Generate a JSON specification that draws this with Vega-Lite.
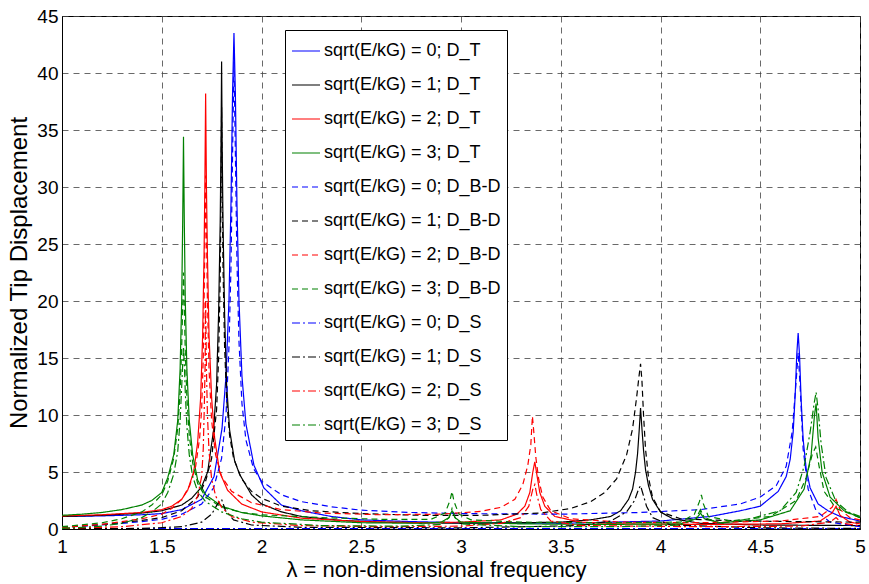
{
  "$schema": "https://vega.github.io/schema/vega-lite/v6.json",
  "width": 798,
  "height": 513,
  "autosize": "none",
  "padding": {"left": 62, "top": 16, "right": 9, "bottom": 55},
  "background": "white",
  "config": {
    "font": "Liberation Sans",
    "view": {"stroke": "#000000", "strokeWidth": 1},
    "axis": {
      "labelFont": "Liberation Sans", "titleFont": "Liberation Sans",
      "labelColor": "#000", "titleColor": "#000", "labelFontSize": 19,
      "titleFontWeight": "normal", "domainColor": "#000", "ticks": false,
      "grid": true, "gridColor": "#444", "gridDash": [6, 5], "gridOpacity": 0.8, "gridWidth": 1
    },
    "legend": {"labelFont": "Liberation Sans"}
  },
  "datasets": {
    "names": [
      {"s": "T0", "name": "sqrt(E/kG) = 0; D_T"},
      {"s": "T1", "name": "sqrt(E/kG) = 1; D_T"},
      {"s": "T2", "name": "sqrt(E/kG) = 2; D_T"},
      {"s": "T3", "name": "sqrt(E/kG) = 3; D_T"},
      {"s": "B0", "name": "sqrt(E/kG) = 0; D_B-D"},
      {"s": "B1", "name": "sqrt(E/kG) = 1; D_B-D"},
      {"s": "B2", "name": "sqrt(E/kG) = 2; D_B-D"},
      {"s": "B3", "name": "sqrt(E/kG) = 3; D_B-D"},
      {"s": "S0", "name": "sqrt(E/kG) = 0; D_S"},
      {"s": "S1", "name": "sqrt(E/kG) = 1; D_S"},
      {"s": "S2", "name": "sqrt(E/kG) = 2; D_S"},
      {"s": "S3", "name": "sqrt(E/kG) = 3; D_S"}
    ],
    "pts": [
      {"s":"T0","x":1,"y":1.1},{"s":"T0","x":1.2,"y":1.15},{"s":"T0","x":1.4,"y":1.25},{"s":"T0","x":1.5,"y":1.35},{"s":"T0","x":1.6,"y":1.7},{"s":"T0","x":1.7,"y":2.6},{"s":"T0","x":1.762,"y":4.6},{"s":"T0","x":1.802,"y":8.8},{"s":"T0","x":1.822,"y":13.4},{"s":"T0","x":1.837,"y":20.1},{"s":"T0","x":1.847,"y":28.5},{"s":"T0","x":1.855,"y":38.3},{"s":"T0","x":1.862,"y":43.5},{"s":"T0","x":1.869,"y":38.3},{"s":"T0","x":1.877,"y":28.5},{"s":"T0","x":1.887,"y":20.1},{"s":"T0","x":1.902,"y":13.4},{"s":"T0","x":1.922,"y":9.2},{"s":"T0","x":1.962,"y":5.6},{"s":"T0","x":2.012,"y":3.6},{"s":"T0","x":2.1,"y":2.1},{"s":"T0","x":2.2,"y":1.6},{"s":"T0","x":2.35,"y":1.1},{"s":"T0","x":2.5,"y":0.8},{"s":"T0","x":2.75,"y":0.65},{"s":"T0","x":3,"y":0.55},{"s":"T0","x":3.5,"y":0.5},{"s":"T0","x":4,"y":0.7},{"s":"T0","x":4.25,"y":1.1},{"s":"T0","x":4.4,"y":1.6},{"s":"T0","x":4.5,"y":2.0},{"s":"T0","x":4.59,"y":3.3},{"s":"T0","x":4.63,"y":4.6},{"s":"T0","x":4.65,"y":6.1},{"s":"T0","x":4.665,"y":8.5},{"s":"T0","x":4.675,"y":11.7},{"s":"T0","x":4.683,"y":15.3},{"s":"T0","x":4.69,"y":17.2},{"s":"T0","x":4.697,"y":15.2},{"s":"T0","x":4.705,"y":11.3},{"s":"T0","x":4.715,"y":7.9},{"s":"T0","x":4.73,"y":5.3},{"s":"T0","x":4.75,"y":3.6},{"s":"T0","x":4.79,"y":2.2},{"s":"T0","x":4.84,"y":1.6},{"s":"T0","x":4.9,"y":1.1},{"s":"T0","x":5,"y":0.7},

      {"s":"T1","x":1,"y":1.1},{"s":"T1","x":1.2,"y":1.2},{"s":"T1","x":1.4,"y":1.4},{"s":"T1","x":1.5,"y":1.6},{"s":"T1","x":1.6,"y":2.1},{"s":"T1","x":1.65,"y":2.7},{"s":"T1","x":1.7,"y":3.7},{"s":"T1","x":1.73,"y":5.0},{"s":"T1","x":1.76,"y":8.7},{"s":"T1","x":1.775,"y":12.7},{"s":"T1","x":1.785,"y":18.9},{"s":"T1","x":1.793,"y":26.9},{"s":"T1","x":1.797,"y":33.5},{"s":"T1","x":1.8,"y":41},{"s":"T1","x":1.803,"y":33.5},{"s":"T1","x":1.807,"y":26.9},{"s":"T1","x":1.815,"y":18.9},{"s":"T1","x":1.825,"y":12.7},{"s":"T1","x":1.84,"y":8.7},{"s":"T1","x":1.865,"y":6.0},{"s":"T1","x":1.89,"y":4.8},{"s":"T1","x":1.95,"y":3.0},{"s":"T1","x":2,"y":2.2},{"s":"T1","x":2.1,"y":1.5},{"s":"T1","x":2.2,"y":1.1},{"s":"T1","x":2.4,"y":0.75},{"s":"T1","x":2.6,"y":0.6},{"s":"T1","x":3,"y":0.5},{"s":"T1","x":3.3,"y":0.55},{"s":"T1","x":3.5,"y":0.6},{"s":"T1","x":3.65,"y":0.8},{"s":"T1","x":3.75,"y":1.1},{"s":"T1","x":3.8,"y":1.6},{"s":"T1","x":3.84,"y":2.6},{"s":"T1","x":3.86,"y":3.5},{"s":"T1","x":3.875,"y":5.0},{"s":"T1","x":3.885,"y":6.6},{"s":"T1","x":3.893,"y":8.6},{"s":"T1","x":3.9,"y":10.6},{"s":"T1","x":3.907,"y":8.8},{"s":"T1","x":3.915,"y":6.9},{"s":"T1","x":3.925,"y":5.2},{"s":"T1","x":3.94,"y":3.8},{"s":"T1","x":3.96,"y":2.6},{"s":"T1","x":4,"y":1.5},{"s":"T1","x":4.06,"y":0.9},{"s":"T1","x":4.2,"y":0.5},{"s":"T1","x":4.5,"y":0.35},{"s":"T1","x":5,"y":0.3},

      {"s":"T2","x":1,"y":1.15},{"s":"T2","x":1.2,"y":1.25},{"s":"T2","x":1.4,"y":1.45},{"s":"T2","x":1.5,"y":1.7},{"s":"T2","x":1.55,"y":2.0},{"s":"T2","x":1.6,"y":2.6},{"s":"T2","x":1.63,"y":3.4},{"s":"T2","x":1.66,"y":5.0},{"s":"T2","x":1.68,"y":7.6},{"s":"T2","x":1.695,"y":11.5},{"s":"T2","x":1.705,"y":17},{"s":"T2","x":1.712,"y":24},{"s":"T2","x":1.716,"y":30},{"s":"T2","x":1.72,"y":38.2},{"s":"T2","x":1.724,"y":30},{"s":"T2","x":1.729,"y":24},{"s":"T2","x":1.737,"y":17},{"s":"T2","x":1.75,"y":11.5},{"s":"T2","x":1.765,"y":8},{"s":"T2","x":1.79,"y":5.0},{"s":"T2","x":1.83,"y":3.4},{"s":"T2","x":1.9,"y":2.2},{"s":"T2","x":2,"y":1.5},{"s":"T2","x":2.2,"y":0.95},{"s":"T2","x":2.5,"y":0.65},{"s":"T2","x":2.8,"y":0.55},{"s":"T2","x":3,"y":0.6},{"s":"T2","x":3.2,"y":0.8},{"s":"T2","x":3.28,"y":1.3},{"s":"T2","x":3.32,"y":2.0},{"s":"T2","x":3.345,"y":3.2},{"s":"T2","x":3.36,"y":5.0},{"s":"T2","x":3.37,"y":5.9},{"s":"T2","x":3.38,"y":4.8},{"s":"T2","x":3.395,"y":3.2},{"s":"T2","x":3.42,"y":2.0},{"s":"T2","x":3.47,"y":1.1},{"s":"T2","x":3.6,"y":0.6},{"s":"T2","x":3.8,"y":0.45},{"s":"T2","x":4.2,"y":0.4},{"s":"T2","x":4.6,"y":0.45},{"s":"T2","x":4.8,"y":0.7},{"s":"T2","x":4.86,"y":1.4},{"s":"T2","x":4.88,"y":2.0},{"s":"T2","x":4.9,"y":1.2},{"s":"T2","x":4.95,"y":0.6},{"s":"T2","x":5,"y":0.45},

      {"s":"T3","x":1,"y":1.2},{"s":"T3","x":1.1,"y":1.3},{"s":"T3","x":1.2,"y":1.45},{"s":"T3","x":1.3,"y":1.7},{"s":"T3","x":1.4,"y":2.1},{"s":"T3","x":1.45,"y":2.5},{"s":"T3","x":1.5,"y":3.2},{"s":"T3","x":1.53,"y":4.5},{"s":"T3","x":1.56,"y":6.5},{"s":"T3","x":1.58,"y":9.5},{"s":"T3","x":1.592,"y":14},{"s":"T3","x":1.6,"y":20},{"s":"T3","x":1.605,"y":27},{"s":"T3","x":1.609,"y":34.4},{"s":"T3","x":1.613,"y":27},{"s":"T3","x":1.618,"y":20},{"s":"T3","x":1.626,"y":14},{"s":"T3","x":1.638,"y":9.5},{"s":"T3","x":1.655,"y":6.5},{"s":"T3","x":1.68,"y":4.3},{"s":"T3","x":1.72,"y":3.0},{"s":"T3","x":1.8,"y":2.0},{"s":"T3","x":1.9,"y":1.45},{"s":"T3","x":2,"y":1.15},{"s":"T3","x":2.2,"y":0.8},{"s":"T3","x":2.5,"y":0.55},{"s":"T3","x":2.8,"y":0.5},{"s":"T3","x":2.9,"y":0.6},{"s":"T3","x":2.94,"y":1.0},{"s":"T3","x":2.955,"y":1.6},{"s":"T3","x":2.97,"y":1.0},{"s":"T3","x":3,"y":0.6},{"s":"T3","x":3.3,"y":0.45},{"s":"T3","x":3.7,"y":0.4},{"s":"T3","x":4.1,"y":0.45},{"s":"T3","x":4.18,"y":0.9},{"s":"T3","x":4.2,"y":1.4},{"s":"T3","x":4.22,"y":0.9},{"s":"T3","x":4.3,"y":0.55},{"s":"T3","x":4.5,"y":0.8},{"s":"T3","x":4.65,"y":1.6},{"s":"T3","x":4.72,"y":3.5},{"s":"T3","x":4.755,"y":6.5},{"s":"T3","x":4.772,"y":10},{"s":"T3","x":4.78,"y":11},{"s":"T3","x":4.79,"y":8},{"s":"T3","x":4.81,"y":5},{"s":"T3","x":4.85,"y":2.8},{"s":"T3","x":4.92,"y":1.6},{"s":"T3","x":5,"y":1.0},

      {"s":"B0","x":1,"y":0.15},{"s":"B0","x":1.2,"y":0.35},{"s":"B0","x":1.4,"y":0.65},{"s":"B0","x":1.5,"y":0.85},{"s":"B0","x":1.6,"y":1.3},{"s":"B0","x":1.7,"y":2.2},{"s":"B0","x":1.76,"y":3.6},{"s":"B0","x":1.8,"y":6.2},{"s":"B0","x":1.822,"y":10},{"s":"B0","x":1.837,"y":16},{"s":"B0","x":1.847,"y":23},{"s":"B0","x":1.855,"y":33},{"s":"B0","x":1.862,"y":41},{"s":"B0","x":1.869,"y":33},{"s":"B0","x":1.877,"y":23.5},{"s":"B0","x":1.887,"y":16.5},{"s":"B0","x":1.902,"y":11},{"s":"B0","x":1.922,"y":7.8},{"s":"B0","x":1.96,"y":5.3},{"s":"B0","x":2,"y":4.2},{"s":"B0","x":2.1,"y":3.0},{"s":"B0","x":2.2,"y":2.4},{"s":"B0","x":2.35,"y":1.95},{"s":"B0","x":2.5,"y":1.65},{"s":"B0","x":2.75,"y":1.45},{"s":"B0","x":3,"y":1.35},{"s":"B0","x":3.5,"y":1.3},{"s":"B0","x":3.9,"y":1.45},{"s":"B0","x":4.2,"y":1.7},{"s":"B0","x":4.4,"y":2.2},{"s":"B0","x":4.5,"y":2.8},{"s":"B0","x":4.58,"y":3.8},{"s":"B0","x":4.63,"y":5.5},{"s":"B0","x":4.66,"y":8.5},{"s":"B0","x":4.68,"y":13},{"s":"B0","x":4.69,"y":15.5},{"s":"B0","x":4.7,"y":12.5},{"s":"B0","x":4.715,"y":7},{"s":"B0","x":4.74,"y":3.5},{"s":"B0","x":4.78,"y":1.6},{"s":"B0","x":4.85,"y":0.6},{"s":"B0","x":5,"y":0.2},

      {"s":"B1","x":1,"y":0.15},{"s":"B1","x":1.2,"y":0.4},{"s":"B1","x":1.4,"y":0.75},{"s":"B1","x":1.5,"y":1.0},{"s":"B1","x":1.6,"y":1.6},{"s":"B1","x":1.68,"y":2.8},{"s":"B1","x":1.72,"y":4.2},{"s":"B1","x":1.75,"y":6.2},{"s":"B1","x":1.775,"y":10.5},{"s":"B1","x":1.785,"y":15},{"s":"B1","x":1.793,"y":22},{"s":"B1","x":1.797,"y":29},{"s":"B1","x":1.8,"y":37},{"s":"B1","x":1.803,"y":30},{"s":"B1","x":1.807,"y":23},{"s":"B1","x":1.815,"y":16},{"s":"B1","x":1.825,"y":11.5},{"s":"B1","x":1.84,"y":8.2},{"s":"B1","x":1.86,"y":6.2},{"s":"B1","x":1.9,"y":4.4},{"s":"B1","x":1.95,"y":3.3},{"s":"B1","x":2,"y":2.7},{"s":"B1","x":2.1,"y":2.0},{"s":"B1","x":2.25,"y":1.6},{"s":"B1","x":2.5,"y":1.35},{"s":"B1","x":2.8,"y":1.2},{"s":"B1","x":3.1,"y":1.2},{"s":"B1","x":3.4,"y":1.4},{"s":"B1","x":3.55,"y":1.8},{"s":"B1","x":3.65,"y":2.4},{"s":"B1","x":3.72,"y":3.2},{"s":"B1","x":3.78,"y":4.4},{"s":"B1","x":3.83,"y":6.5},{"s":"B1","x":3.86,"y":8.8},{"s":"B1","x":3.88,"y":11.5},{"s":"B1","x":3.893,"y":13.5},{"s":"B1","x":3.9,"y":14.5},{"s":"B1","x":3.907,"y":13},{"s":"B1","x":3.915,"y":10},{"s":"B1","x":3.925,"y":7},{"s":"B1","x":3.94,"y":4.5},{"s":"B1","x":3.96,"y":2.8},{"s":"B1","x":4,"y":1.5},{"s":"B1","x":4.1,"y":0.9},{"s":"B1","x":4.4,"y":0.7},{"s":"B1","x":4.7,"y":0.65},{"s":"B1","x":5,"y":0.6},

      {"s":"B2","x":1,"y":0.15},{"s":"B2","x":1.2,"y":0.4},{"s":"B2","x":1.4,"y":0.9},{"s":"B2","x":1.5,"y":1.3},{"s":"B2","x":1.55,"y":1.8},{"s":"B2","x":1.6,"y":2.6},{"s":"B2","x":1.64,"y":3.8},{"s":"B2","x":1.67,"y":5.5},{"s":"B2","x":1.69,"y":8.0},{"s":"B2","x":1.7,"y":10.5},{"s":"B2","x":1.708,"y":15},{"s":"B2","x":1.713,"y":21},{"s":"B2","x":1.717,"y":26},{"s":"B2","x":1.72,"y":31},{"s":"B2","x":1.724,"y":26},{"s":"B2","x":1.729,"y":20},{"s":"B2","x":1.737,"y":14},{"s":"B2","x":1.75,"y":9.5},{"s":"B2","x":1.77,"y":6.5},{"s":"B2","x":1.8,"y":4.6},{"s":"B2","x":1.85,"y":3.3},{"s":"B2","x":1.95,"y":2.3},{"s":"B2","x":2.1,"y":1.7},{"s":"B2","x":2.3,"y":1.4},{"s":"B2","x":2.6,"y":1.25},{"s":"B2","x":2.9,"y":1.3},{"s":"B2","x":3.1,"y":1.55},{"s":"B2","x":3.2,"y":1.9},{"s":"B2","x":3.27,"y":2.6},{"s":"B2","x":3.31,"y":3.9},{"s":"B2","x":3.335,"y":5.6},{"s":"B2","x":3.35,"y":7.4},{"s":"B2","x":3.358,"y":9.9},{"s":"B2","x":3.365,"y":8.5},{"s":"B2","x":3.375,"y":6.3},{"s":"B2","x":3.39,"y":4.3},{"s":"B2","x":3.41,"y":2.8},{"s":"B2","x":3.45,"y":1.6},{"s":"B2","x":3.55,"y":0.9},{"s":"B2","x":3.8,"y":0.6},{"s":"B2","x":4.2,"y":0.55},{"s":"B2","x":4.6,"y":0.7},{"s":"B2","x":4.8,"y":1.1},{"s":"B2","x":4.86,"y":1.9},{"s":"B2","x":4.88,"y":2.6},{"s":"B2","x":4.9,"y":1.7},{"s":"B2","x":4.95,"y":1.0},{"s":"B2","x":5,"y":0.8},

      {"s":"B3","x":1,"y":0.2},{"s":"B3","x":1.2,"y":0.55},{"s":"B3","x":1.3,"y":0.9},{"s":"B3","x":1.4,"y":1.5},{"s":"B3","x":1.45,"y":2.1},{"s":"B3","x":1.5,"y":3.0},{"s":"B3","x":1.53,"y":4.2},{"s":"B3","x":1.56,"y":6.2},{"s":"B3","x":1.58,"y":8.8},{"s":"B3","x":1.592,"y":12},{"s":"B3","x":1.6,"y":16},{"s":"B3","x":1.605,"y":19.5},{"s":"B3","x":1.609,"y":22.5},{"s":"B3","x":1.613,"y":19.5},{"s":"B3","x":1.618,"y":15.5},{"s":"B3","x":1.626,"y":11.5},{"s":"B3","x":1.638,"y":8.2},{"s":"B3","x":1.655,"y":5.8},{"s":"B3","x":1.68,"y":4.0},{"s":"B3","x":1.72,"y":2.8},{"s":"B3","x":1.8,"y":1.9},{"s":"B3","x":1.9,"y":1.45},{"s":"B3","x":2,"y":1.25},{"s":"B3","x":2.3,"y":1.0},{"s":"B3","x":2.6,"y":0.85},{"s":"B3","x":2.85,"y":0.85},{"s":"B3","x":2.92,"y":1.4},{"s":"B3","x":2.945,"y":2.5},{"s":"B3","x":2.955,"y":3.3},{"s":"B3","x":2.965,"y":2.4},{"s":"B3","x":2.99,"y":1.3},{"s":"B3","x":3.05,"y":0.8},{"s":"B3","x":3.3,"y":0.6},{"s":"B3","x":3.7,"y":0.55},{"s":"B3","x":4.1,"y":0.6},{"s":"B3","x":4.17,"y":1.3},{"s":"B3","x":4.195,"y":2.4},{"s":"B3","x":4.205,"y":3.0},{"s":"B3","x":4.215,"y":2.2},{"s":"B3","x":4.24,"y":1.1},{"s":"B3","x":4.35,"y":0.7},{"s":"B3","x":4.55,"y":1.1},{"s":"B3","x":4.68,"y":2.5},{"s":"B3","x":4.73,"y":4.5},{"s":"B3","x":4.76,"y":6.5},{"s":"B3","x":4.778,"y":7.2},{"s":"B3","x":4.795,"y":5.5},{"s":"B3","x":4.82,"y":3.3},{"s":"B3","x":4.88,"y":1.8},{"s":"B3","x":5,"y":1.0},

      {"s":"S0","x":1,"y":0.03},{"s":"S0","x":2,"y":0.03},{"s":"S0","x":3,"y":0.03},{"s":"S0","x":4,"y":0.03},{"s":"S0","x":5,"y":0.03},

      {"s":"S1","x":1,"y":0.02},{"s":"S1","x":1.4,"y":0.05},{"s":"S1","x":1.6,"y":0.2},{"s":"S1","x":1.7,"y":0.6},{"s":"S1","x":1.75,"y":1.3},{"s":"S1","x":1.78,"y":2.2},{"s":"S1","x":1.8,"y":2.6},{"s":"S1","x":1.82,"y":1.6},{"s":"S1","x":1.86,"y":0.8},{"s":"S1","x":1.95,"y":0.35},{"s":"S1","x":2.2,"y":0.15},{"s":"S1","x":3,"y":0.1},{"s":"S1","x":3.6,"y":0.3},{"s":"S1","x":3.75,"y":0.7},{"s":"S1","x":3.83,"y":1.5},{"s":"S1","x":3.87,"y":2.5},{"s":"S1","x":3.89,"y":3.5},{"s":"S1","x":3.9,"y":3.8},{"s":"S1","x":3.91,"y":3.2},{"s":"S1","x":3.93,"y":2.0},{"s":"S1","x":3.96,"y":1.0},{"s":"S1","x":4.05,"y":0.35},{"s":"S1","x":4.5,"y":0.1},{"s":"S1","x":5,"y":0.05},

      {"s":"S2","x":1,"y":0.05},{"s":"S2","x":1.3,"y":0.2},{"s":"S2","x":1.5,"y":0.55},{"s":"S2","x":1.6,"y":1.1},{"s":"S2","x":1.65,"y":1.8},{"s":"S2","x":1.68,"y":2.9},{"s":"S2","x":1.7,"y":4.6},{"s":"S2","x":1.708,"y":7},{"s":"S2","x":1.713,"y":10.5},{"s":"S2","x":1.717,"y":14},{"s":"S2","x":1.72,"y":20},{"s":"S2","x":1.724,"y":14},{"s":"S2","x":1.729,"y":10},{"s":"S2","x":1.737,"y":6.8},{"s":"S2","x":1.75,"y":4.4},{"s":"S2","x":1.77,"y":2.9},{"s":"S2","x":1.8,"y":1.9},{"s":"S2","x":1.85,"y":1.1},{"s":"S2","x":1.95,"y":0.6},{"s":"S2","x":2.2,"y":0.3},{"s":"S2","x":2.6,"y":0.2},{"s":"S2","x":3,"y":0.25},{"s":"S2","x":3.2,"y":0.5},{"s":"S2","x":3.3,"y":1.0},{"s":"S2","x":3.34,"y":2.0},{"s":"S2","x":3.36,"y":3.5},{"s":"S2","x":3.37,"y":3.9},{"s":"S2","x":3.38,"y":3.0},{"s":"S2","x":3.4,"y":1.7},{"s":"S2","x":3.45,"y":0.7},{"s":"S2","x":3.6,"y":0.3},{"s":"S2","x":4.2,"y":0.2},{"s":"S2","x":4.7,"y":0.25},{"s":"S2","x":4.85,"y":0.6},{"s":"S2","x":4.88,"y":1.0},{"s":"S2","x":4.91,"y":0.5},{"s":"S2","x":5,"y":0.3},

      {"s":"S3","x":1,"y":0.05},{"s":"S3","x":1.2,"y":0.25},{"s":"S3","x":1.3,"y":0.5},{"s":"S3","x":1.4,"y":1.0},{"s":"S3","x":1.45,"y":1.5},{"s":"S3","x":1.5,"y":2.2},{"s":"S3","x":1.53,"y":3.2},{"s":"S3","x":1.56,"y":4.8},{"s":"S3","x":1.58,"y":6.8},{"s":"S3","x":1.592,"y":9.5},{"s":"S3","x":1.6,"y":12.5},{"s":"S3","x":1.605,"y":14.5},{"s":"S3","x":1.609,"y":16},{"s":"S3","x":1.613,"y":14.5},{"s":"S3","x":1.618,"y":12},{"s":"S3","x":1.626,"y":9},{"s":"S3","x":1.638,"y":6.5},{"s":"S3","x":1.655,"y":4.6},{"s":"S3","x":1.68,"y":3.3},{"s":"S3","x":1.72,"y":2.4},{"s":"S3","x":1.8,"y":1.5},{"s":"S3","x":1.9,"y":0.9},{"s":"S3","x":2,"y":0.6},{"s":"S3","x":2.3,"y":0.3},{"s":"S3","x":2.7,"y":0.25},{"s":"S3","x":2.9,"y":0.4},{"s":"S3","x":2.94,"y":1.0},{"s":"S3","x":2.955,"y":1.8},{"s":"S3","x":2.97,"y":1.0},{"s":"S3","x":3,"y":0.45},{"s":"S3","x":3.3,"y":0.2},{"s":"S3","x":3.8,"y":0.2},{"s":"S3","x":4.1,"y":0.35},{"s":"S3","x":4.18,"y":1.0},{"s":"S3","x":4.2,"y":1.7},{"s":"S3","x":4.22,"y":1.0},{"s":"S3","x":4.3,"y":0.5},{"s":"S3","x":4.45,"y":0.9},{"s":"S3","x":4.6,"y":1.6},{"s":"S3","x":4.68,"y":3.2},{"s":"S3","x":4.72,"y":5.5},{"s":"S3","x":4.75,"y":8.5},{"s":"S3","x":4.77,"y":11},{"s":"S3","x":4.78,"y":12.0},{"s":"S3","x":4.79,"y":10.5},{"s":"S3","x":4.805,"y":7.5},{"s":"S3","x":4.83,"y":4.5},{"s":"S3","x":4.88,"y":2.4},{"s":"S3","x":4.94,"y":1.5},{"s":"S3","x":5,"y":1.1}
    ]
  },
  "data": {"name": "pts"},
  "transform": [
    {"lookup": "s", "from": {"data": {"name": "names"}, "key": "s", "fields": ["name"]}}
  ],
  "mark": {"type": "line", "clip": true, "interpolate": "linear"},
  "encoding": {
    "x": {
      "field": "x", "type": "quantitative",
      "scale": {"domain": [1, 5], "nice": false, "zero": false},
      "axis": {"values": [1, 1.5, 2, 2.5, 3, 3.5, 4, 4.5, 5], "format": "~g", "title": "λ = non-dimensional frequency", "titleFontSize": 22, "labelPadding": 8, "titlePadding": 3, "labelFlush": false, "titleX": 374}
    },
    "y": {
      "field": "y", "type": "quantitative",
      "scale": {"domain": [0, 45], "nice": false},
      "axis": {"values": [0, 5, 10, 15, 20, 25, 30, 35, 40, 45], "title": "Normalized Tip Displacement", "titleFontSize": 24, "labelPadding": 4, "titlePadding": 5}
    },
    "color": {
      "field": "name", "type": "nominal",
      "scale": {
        "domain": ["sqrt(E/kG) = 0; D_T", "sqrt(E/kG) = 1; D_T", "sqrt(E/kG) = 2; D_T", "sqrt(E/kG) = 3; D_T", "sqrt(E/kG) = 0; D_B-D", "sqrt(E/kG) = 1; D_B-D", "sqrt(E/kG) = 2; D_B-D", "sqrt(E/kG) = 3; D_B-D", "sqrt(E/kG) = 0; D_S", "sqrt(E/kG) = 1; D_S", "sqrt(E/kG) = 2; D_S", "sqrt(E/kG) = 3; D_S"],
        "range": ["#0000ff", "#000000", "#ff0000", "#008000", "#0000ff", "#000000", "#ff0000", "#008000", "#0000ff", "#000000", "#ff0000", "#008000"]
      },
      "legend": {
        "orient": "none", "legendX": 223, "legendY": 14, "title": null,
        "symbolType": "stroke", "symbolSize": 784, "labelFontSize": 18, "labelColor": "#000",
        "labelLimit": 300, "labelOffset": 3, "rowPadding": 10, "padding": 6,
        "strokeColor": "#000", "fillColor": "#ffffff", "cornerRadius": 0
      }
    },
    "strokeDash": {
      "field": "name", "type": "nominal",
      "scale": {
        "domain": ["sqrt(E/kG) = 0; D_T", "sqrt(E/kG) = 1; D_T", "sqrt(E/kG) = 2; D_T", "sqrt(E/kG) = 3; D_T", "sqrt(E/kG) = 0; D_B-D", "sqrt(E/kG) = 1; D_B-D", "sqrt(E/kG) = 2; D_B-D", "sqrt(E/kG) = 3; D_B-D", "sqrt(E/kG) = 0; D_S", "sqrt(E/kG) = 1; D_S", "sqrt(E/kG) = 2; D_S", "sqrt(E/kG) = 3; D_S"],
        "range": [[1, 0], [1, 0], [1, 0], [1, 0], [6, 4], [6, 4], [6, 4], [6, 4], [8, 3, 2, 3], [8, 3, 2, 3], [8, 3, 2, 3], [8, 3, 2, 3]]
      }
    },
    "strokeWidth": {
      "field": "name", "type": "nominal",
      "scale": {
        "domain": ["sqrt(E/kG) = 0; D_T", "sqrt(E/kG) = 1; D_T", "sqrt(E/kG) = 2; D_T", "sqrt(E/kG) = 3; D_T", "sqrt(E/kG) = 0; D_B-D", "sqrt(E/kG) = 1; D_B-D", "sqrt(E/kG) = 2; D_B-D", "sqrt(E/kG) = 3; D_B-D", "sqrt(E/kG) = 0; D_S", "sqrt(E/kG) = 1; D_S", "sqrt(E/kG) = 2; D_S", "sqrt(E/kG) = 3; D_S"],
        "range": [1.2, 1.2, 1.2, 1.2, 1.2, 1.2, 1.2, 1.2, 2.6, 2.6, 2.6, 2.6]
      }
    }
  }
}
